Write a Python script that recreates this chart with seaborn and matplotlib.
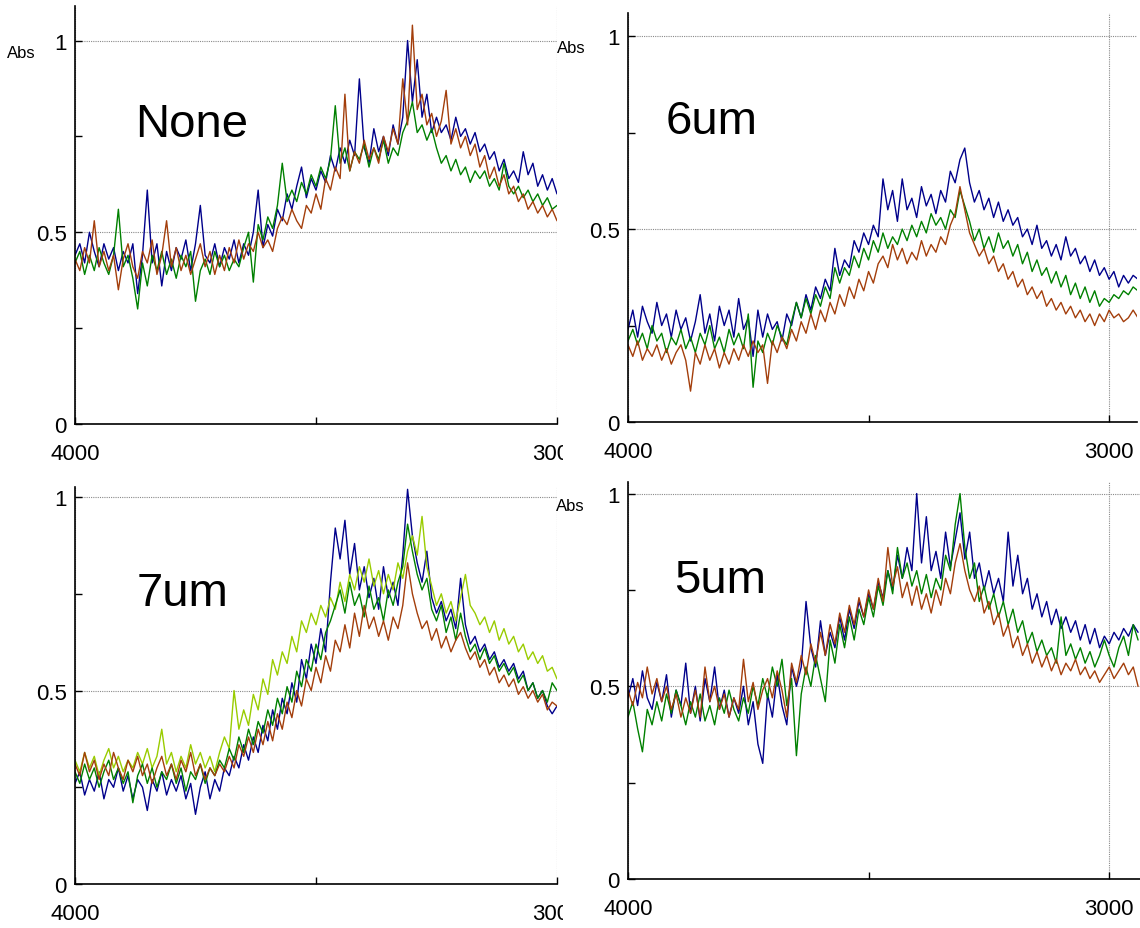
import numpy as np
import pandas as pd
import matplotlib
matplotlib.use("Agg")
import matplotlib.pyplot as plt
from matplotlib.ticker import FixedLocator
from matplotlib.transforms import Bbox, TransformedBbox
import seaborn as sns

# wavenumber grids in cm-1, 10 cm-1 steps
wn_left = np.arange(4000, 2999, -10)   # 4000 .. 3000
wn_right = np.arange(4000, 2939, -10)  # 4000 .. 2940

none_blue = [
    0.44, 0.47, 0.42, 0.50, 0.45, 0.41, 0.47, 0.43, 0.46, 0.40,
    0.45, 0.42, 0.47, 0.34, 0.44, 0.61, 0.42, 0.47, 0.36, 0.45,
    0.40, 0.46, 0.43, 0.48, 0.40, 0.47, 0.57, 0.44, 0.42, 0.47,
    0.41, 0.46, 0.43, 0.48, 0.42, 0.47, 0.44, 0.50, 0.61, 0.46,
    0.52, 0.49, 0.56, 0.53, 0.60, 0.56, 0.62, 0.67, 0.59, 0.64,
    0.61, 0.66, 0.63, 0.70, 0.66, 0.72, 0.68, 0.74, 0.70, 0.90,
    0.72, 0.68, 0.77, 0.71, 0.75, 0.70, 0.78, 0.73, 0.80, 1.00,
    0.84, 0.95, 0.80, 0.86, 0.76, 0.80, 0.76, 0.78, 0.74, 0.80,
    0.75, 0.77, 0.73, 0.76, 0.71, 0.73, 0.69, 0.71, 0.66, 0.69,
    0.64, 0.66, 0.63, 0.71, 0.65, 0.68, 0.62, 0.65, 0.61, 0.64,
    0.60]
none_green = [
    0.42, 0.45, 0.39, 0.44, 0.40, 0.46, 0.42, 0.39, 0.44, 0.56,
    0.41, 0.44, 0.38, 0.30, 0.42, 0.36, 0.44, 0.40, 0.45, 0.39,
    0.43, 0.38, 0.44, 0.41, 0.45, 0.32, 0.40, 0.43, 0.39, 0.45,
    0.41, 0.44, 0.40, 0.43, 0.41, 0.46, 0.50, 0.37, 0.52, 0.48,
    0.54, 0.51, 0.57, 0.68, 0.58, 0.61, 0.58, 0.63, 0.60, 0.65,
    0.62, 0.67, 0.64, 0.69, 0.83, 0.68, 0.72, 0.66, 0.71, 0.69,
    0.73, 0.67, 0.72, 0.69, 0.74, 0.68, 0.72, 0.70, 0.76, 0.79,
    0.84, 0.76, 0.78, 0.74, 0.77, 0.72, 0.68, 0.70, 0.66, 0.69,
    0.65, 0.67, 0.63, 0.66, 0.64, 0.66, 0.62, 0.64, 0.61, 0.68,
    0.62, 0.60, 0.62, 0.59, 0.61, 0.58, 0.60, 0.57, 0.59, 0.56,
    0.57]
none_brown = [
    0.43, 0.40, 0.46, 0.42, 0.53, 0.41, 0.45, 0.40, 0.44, 0.35,
    0.43, 0.47, 0.41, 0.38, 0.45, 0.42, 0.48, 0.39, 0.44, 0.53,
    0.41, 0.46, 0.40, 0.44, 0.39, 0.43, 0.47, 0.41, 0.45, 0.39,
    0.44, 0.40, 0.46, 0.42, 0.48, 0.43, 0.47, 0.45, 0.50, 0.46,
    0.48, 0.45, 0.51, 0.54, 0.52, 0.56, 0.53, 0.51, 0.57, 0.55,
    0.60, 0.56, 0.64, 0.61, 0.67, 0.64, 0.86, 0.66, 0.71, 0.68,
    0.74, 0.69, 0.72, 0.68, 0.75, 0.71, 0.77, 0.73, 0.90, 0.78,
    1.04, 0.82, 0.86, 0.78, 0.81, 0.75, 0.79, 0.87, 0.73, 0.77,
    0.72, 0.75, 0.70, 0.73, 0.67, 0.70, 0.64, 0.67, 0.62, 0.65,
    0.60, 0.62, 0.58, 0.60, 0.56, 0.58, 0.55, 0.57, 0.54, 0.56,
    0.53]

um6_blue = [
    0.24, 0.29, 0.22, 0.30, 0.26, 0.23, 0.31, 0.25, 0.28, 0.22,
    0.29, 0.24, 0.27, 0.21, 0.26, 0.33, 0.23, 0.28, 0.21, 0.30,
    0.25, 0.29, 0.22, 0.32, 0.24, 0.27, 0.17, 0.29, 0.22, 0.28,
    0.24, 0.26, 0.21, 0.28, 0.25, 0.31, 0.27, 0.33, 0.29, 0.35,
    0.32, 0.37, 0.34, 0.45, 0.38, 0.42, 0.40, 0.47, 0.44, 0.49,
    0.46, 0.51, 0.48, 0.63, 0.55, 0.60, 0.52, 0.63, 0.55, 0.58,
    0.53, 0.61, 0.56, 0.59, 0.54, 0.60, 0.57, 0.65, 0.62, 0.68,
    0.71, 0.62, 0.57, 0.60, 0.55, 0.58, 0.53, 0.57, 0.52, 0.55,
    0.51, 0.53, 0.48, 0.50, 0.46, 0.51, 0.45, 0.47, 0.43, 0.46,
    0.42, 0.48, 0.43, 0.45, 0.41, 0.43, 0.39, 0.42, 0.38, 0.40,
    0.37, 0.39, 0.35, 0.38, 0.36, 0.38, 0.37]
um6_green = [
    0.21, 0.24, 0.20, 0.23, 0.19, 0.25, 0.21, 0.23, 0.18, 0.22,
    0.20, 0.24, 0.19, 0.22, 0.18, 0.23, 0.20, 0.25, 0.19, 0.22,
    0.18, 0.24, 0.20, 0.23, 0.19, 0.28, 0.09, 0.21, 0.18, 0.23,
    0.20, 0.25, 0.22, 0.20, 0.26, 0.31, 0.27, 0.32, 0.28, 0.33,
    0.30, 0.35, 0.32, 0.40, 0.36, 0.40, 0.38, 0.43, 0.40, 0.45,
    0.42, 0.47, 0.44, 0.49, 0.45, 0.48, 0.46, 0.50, 0.47, 0.51,
    0.48, 0.52, 0.49, 0.54, 0.51, 0.53, 0.50, 0.55, 0.53, 0.60,
    0.56, 0.52, 0.47, 0.50, 0.45, 0.48, 0.44, 0.49, 0.45, 0.47,
    0.43, 0.46, 0.41, 0.44, 0.39, 0.42, 0.38, 0.40, 0.36, 0.39,
    0.35, 0.38, 0.33, 0.36, 0.32, 0.35, 0.31, 0.34, 0.30, 0.32,
    0.31, 0.33, 0.32, 0.34, 0.33, 0.35, 0.34]
um6_brown = [
    0.20, 0.17, 0.21, 0.16, 0.19, 0.17, 0.20, 0.16, 0.19, 0.15,
    0.18, 0.20, 0.16, 0.08, 0.18, 0.15, 0.20, 0.16, 0.19, 0.14,
    0.18, 0.15, 0.19, 0.16, 0.20, 0.17, 0.21, 0.18, 0.20, 0.10,
    0.21, 0.18, 0.22, 0.19, 0.24, 0.21, 0.26, 0.23, 0.28, 0.24,
    0.29, 0.26, 0.31, 0.28, 0.33, 0.30, 0.35, 0.32, 0.37, 0.34,
    0.39, 0.36, 0.41, 0.43, 0.40, 0.46, 0.42, 0.45, 0.41, 0.44,
    0.42, 0.47, 0.43, 0.46, 0.44, 0.48, 0.46, 0.51, 0.54, 0.61,
    0.55, 0.49, 0.46, 0.43, 0.45, 0.41, 0.43, 0.39, 0.41, 0.37,
    0.39, 0.35, 0.37, 0.33, 0.35, 0.32, 0.34, 0.30, 0.32, 0.29,
    0.31, 0.28, 0.30, 0.27, 0.29, 0.26, 0.28, 0.25, 0.28, 0.26,
    0.29, 0.27, 0.28, 0.26, 0.27, 0.29, 0.27]

um7_blue = [
    0.26, 0.29, 0.23, 0.27, 0.24, 0.29, 0.22, 0.27, 0.25, 0.30,
    0.24, 0.28, 0.22, 0.27, 0.25, 0.19, 0.27, 0.24, 0.29, 0.23,
    0.27, 0.24, 0.28, 0.22, 0.26, 0.18, 0.25, 0.29, 0.22, 0.27,
    0.24, 0.30, 0.28, 0.33, 0.30, 0.36, 0.32, 0.38, 0.34, 0.41,
    0.37, 0.45, 0.40, 0.48, 0.44, 0.52, 0.47, 0.58, 0.53, 0.62,
    0.57, 0.66, 0.60, 0.78, 0.92, 0.84, 0.94, 0.80, 0.88, 0.76,
    0.82, 0.74, 0.79, 0.71, 0.82, 0.74, 0.78, 0.72, 0.85, 1.02,
    0.90, 0.83, 0.78, 0.86, 0.74, 0.70, 0.73, 0.68, 0.71, 0.66,
    0.79, 0.67, 0.62, 0.64, 0.60, 0.62, 0.58, 0.60, 0.56, 0.58,
    0.55, 0.57, 0.53, 0.55, 0.50, 0.52, 0.48, 0.50, 0.46, 0.44,
    0.46]
um7_green = [
    0.29, 0.26, 0.31, 0.27, 0.30, 0.25, 0.29, 0.32, 0.27, 0.30,
    0.26, 0.29, 0.21, 0.28, 0.31, 0.26, 0.30, 0.25, 0.29, 0.27,
    0.31, 0.26, 0.30, 0.24, 0.29, 0.27, 0.31, 0.26, 0.30, 0.28,
    0.32, 0.30, 0.35, 0.32, 0.38, 0.34, 0.40, 0.36, 0.42, 0.39,
    0.45, 0.41, 0.48, 0.44, 0.51, 0.47, 0.55, 0.51, 0.58, 0.55,
    0.62, 0.58, 0.65, 0.68, 0.72, 0.76, 0.70, 0.78, 0.72, 0.75,
    0.69, 0.77, 0.71, 0.74, 0.68, 0.76, 0.72, 0.78, 0.82, 0.93,
    0.86, 0.80, 0.76, 0.79, 0.71, 0.68, 0.72, 0.65, 0.69, 0.63,
    0.70, 0.64, 0.60, 0.62, 0.58, 0.61, 0.57, 0.59, 0.55, 0.57,
    0.54, 0.56, 0.52, 0.54, 0.50, 0.52, 0.48, 0.50, 0.47, 0.52,
    0.50]
um7_brown = [
    0.31, 0.28, 0.34, 0.29, 0.32, 0.27, 0.31, 0.28, 0.34, 0.30,
    0.27, 0.32, 0.29, 0.33, 0.28, 0.31, 0.26, 0.30, 0.33, 0.28,
    0.31, 0.27, 0.32, 0.29, 0.34, 0.28, 0.31, 0.27, 0.30, 0.28,
    0.31, 0.29, 0.33, 0.30, 0.36, 0.33, 0.38, 0.34, 0.40, 0.36,
    0.42, 0.37, 0.44, 0.40, 0.47, 0.43, 0.50, 0.46, 0.53, 0.50,
    0.56, 0.52, 0.59, 0.55, 0.63, 0.60, 0.67, 0.61, 0.70, 0.64,
    0.72, 0.66, 0.69, 0.64, 0.68, 0.63, 0.69, 0.66, 0.72, 0.83,
    0.75, 0.70, 0.66, 0.68, 0.63, 0.66, 0.61, 0.64, 0.60, 0.63,
    0.65, 0.61, 0.58, 0.60, 0.56, 0.58, 0.54, 0.56, 0.52, 0.54,
    0.51, 0.53, 0.49, 0.51, 0.48, 0.50, 0.47, 0.49, 0.45, 0.47,
    0.46]
um7_lime = [
    0.32, 0.29, 0.34, 0.30, 0.33, 0.28, 0.32, 0.35, 0.30, 0.33,
    0.29, 0.32, 0.30, 0.34, 0.31, 0.35, 0.30, 0.33, 0.40, 0.31,
    0.34, 0.29, 0.33, 0.30, 0.36, 0.31, 0.34, 0.30, 0.33, 0.29,
    0.34, 0.38, 0.35, 0.50, 0.40, 0.45, 0.41, 0.49, 0.45, 0.53,
    0.49, 0.58, 0.54, 0.60, 0.57, 0.64, 0.60, 0.68, 0.65, 0.70,
    0.67, 0.72, 0.69, 0.74, 0.71, 0.78, 0.73, 0.80, 0.76, 0.82,
    0.78, 0.84, 0.77, 0.81, 0.75, 0.80, 0.76, 0.83, 0.79, 0.86,
    0.90, 0.85, 0.95, 0.82, 0.77, 0.72, 0.75, 0.70, 0.73, 0.68,
    0.74, 0.80, 0.72, 0.70, 0.67, 0.69, 0.65, 0.68, 0.63, 0.66,
    0.62, 0.64, 0.60, 0.62, 0.58, 0.60, 0.57, 0.59, 0.55, 0.56,
    0.53]

um5_blue = [
    0.47, 0.52, 0.45, 0.54, 0.47, 0.44, 0.51, 0.46, 0.53, 0.42,
    0.49, 0.45, 0.56, 0.43, 0.50, 0.41, 0.52, 0.46, 0.55, 0.44,
    0.49, 0.42, 0.47, 0.43, 0.50, 0.40, 0.46, 0.35, 0.30, 0.48,
    0.42, 0.53, 0.45, 0.40, 0.55, 0.50, 0.55, 0.72, 0.60, 0.55,
    0.67, 0.58, 0.64, 0.60, 0.68, 0.62, 0.70, 0.65, 0.72, 0.68,
    0.74, 0.70, 0.77, 0.73, 0.80, 0.75, 0.84, 0.78, 0.86, 0.80,
    1.00, 0.82, 0.94, 0.80, 0.85, 0.78, 0.90, 0.81, 0.88, 0.95,
    0.83, 0.90, 0.78, 0.82, 0.75, 0.80, 0.74, 0.78, 0.72, 0.90,
    0.76, 0.84, 0.74, 0.78, 0.70, 0.74, 0.68, 0.72, 0.66, 0.70,
    0.65, 0.68, 0.64, 0.67, 0.62, 0.66, 0.61, 0.65, 0.60, 0.63,
    0.61, 0.64, 0.62, 0.65, 0.63, 0.66, 0.64]
um5_green = [
    0.42, 0.46, 0.39, 0.33, 0.44, 0.40, 0.46, 0.41, 0.48, 0.43,
    0.49, 0.45, 0.40, 0.46, 0.42, 0.48, 0.41, 0.45, 0.40, 0.47,
    0.43, 0.49, 0.44, 0.41, 0.47, 0.43, 0.50, 0.45, 0.52, 0.47,
    0.55, 0.50, 0.57, 0.45, 0.52, 0.32, 0.48, 0.55, 0.50, 0.58,
    0.52, 0.46, 0.62, 0.56, 0.66, 0.60, 0.68, 0.62, 0.70, 0.66,
    0.73, 0.68, 0.76, 0.71, 0.80, 0.74, 0.86, 0.78, 0.82, 0.76,
    0.80, 0.74, 0.79, 0.73, 0.78, 0.75, 0.84, 0.80, 0.92, 1.00,
    0.86, 0.78, 0.82, 0.72, 0.76, 0.70, 0.74, 0.68, 0.72, 0.66,
    0.70, 0.64, 0.67, 0.61, 0.64, 0.59, 0.62, 0.58, 0.60, 0.56,
    0.68, 0.58, 0.61, 0.57, 0.60, 0.56, 0.59, 0.55, 0.58, 0.62,
    0.58, 0.55, 0.60, 0.63, 0.58, 0.66, 0.62]
um5_brown = [
    0.49, 0.45, 0.51, 0.47, 0.55, 0.48, 0.52, 0.46, 0.50, 0.44,
    0.48, 0.42, 0.47, 0.43, 0.49, 0.42, 0.55, 0.46, 0.50, 0.44,
    0.48, 0.42, 0.47, 0.44, 0.57, 0.46, 0.51, 0.44, 0.49, 0.52,
    0.47, 0.54, 0.49, 0.42, 0.56, 0.51, 0.58, 0.53, 0.61, 0.56,
    0.64, 0.58, 0.66, 0.61, 0.69, 0.64, 0.71, 0.66, 0.73, 0.68,
    0.75, 0.70, 0.78, 0.72, 0.86, 0.76, 0.81, 0.73, 0.77, 0.71,
    0.76, 0.70, 0.74, 0.69, 0.75, 0.71, 0.78, 0.74, 0.82, 0.87,
    0.80, 0.75, 0.72, 0.76, 0.69, 0.72, 0.66, 0.69, 0.63, 0.66,
    0.60, 0.63, 0.58, 0.61, 0.56, 0.59, 0.55, 0.58, 0.54, 0.57,
    0.53, 0.56, 0.54, 0.57, 0.53, 0.55, 0.52, 0.54, 0.51, 0.53,
    0.55, 0.52, 0.54, 0.56, 0.53, 0.55, 0.50]

palette = {"blue": "#00008b", "lime": "#99cc00", "green": "#008000", "brown": "#a33e0b"}


def spectra_frame(wn, series):
    rows = []
    for name, vals in series.items():
        rows.append(pd.DataFrame({"wavenumber": wn, "Abs": vals, "run": name}))
    return pd.concat(rows, ignore_index=True)


panels = [
    dict(label="None", wn=wn_left,
         series={"blue": none_blue, "green": none_green, "brown": none_brown},
         rect=[75 / 1140, 1 - 425 / 929, 482 / 1140, 418 / 929],
         xlim=(4000, 3000), ytop=1.09, abs_lbl=True, txt=(0.124, 0.75), clip=True),
    dict(label="6um", wn=wn_right,
         series={"blue": um6_blue, "green": um6_green, "brown": um6_brown},
         rect=[628 / 1140, 1 - 423 / 929, 509 / 1140, 409 / 929],
         xlim=(4000, 2942), ytop=1.06, abs_lbl=True, txt=(0.073, 0.75), clip=False),
    dict(label="7um", wn=wn_left,
         series={"blue": um7_blue, "lime": um7_lime, "green": um7_green, "brown": um7_brown},
         rect=[75 / 1140, 1 - 885 / 929, 482 / 1140, 397 / 929],
         xlim=(4000, 3000), ytop=1.026, abs_lbl=False, txt=(0.127, 0.72), clip=True),
    dict(label="5um", wn=wn_right,
         series={"blue": um5_blue, "green": um5_green, "brown": um5_brown},
         rect=[628 / 1140, 1 - 880 / 929, 512 / 1140, 397 / 929],
         xlim=(4000, 2936), ytop=1.03, abs_lbl=True, txt=(0.09, 0.745), clip=False),
]

sns.set_style("ticks")
plt.rcParams["font.family"] = ["Liberation Sans", "DejaVu Sans"]
plt.rcParams["text.color"] = "black"

fig = plt.figure(figsize=(11.4, 9.29), dpi=100)
fig.patch.set_facecolor("white")

for p in panels:
    ax = fig.add_axes(p["rect"])
    df = spectra_frame(p["wn"], p["series"])
    sns.lineplot(data=df, x="wavenumber", y="Abs", hue="run", palette=palette,
                 estimator=None, sort=False, linewidth=1.0, legend=False, ax=ax)
    ax.set_xlim(*p["xlim"])
    ax.set_ylim(0, p["ytop"])
    ax.set_xlabel("")
    ax.set_ylabel("")

    ax.set_yticks([0, 0.5, 1])
    ax.set_yticklabels(["0", "0.5", "1"])
    ax.yaxis.set_minor_locator(FixedLocator([0.25, 0.75]))
    ax.set_xticks([4000, 3000])
    ax.set_xticklabels(["4000", "3000"])
    ax.xaxis.set_minor_locator(FixedLocator([3500]))
    ax.tick_params(which="both", direction="in", length=5, width=1, color="black",
                   labelsize=16, labelcolor="black")
    ax.tick_params(axis="x", pad=14)
    ax.tick_params(axis="y", pad=6)

    ax.grid(True, which="major", color="#8a8a8a", linestyle=(0, (1, 1)), linewidth=0.8)
    ax.set_axisbelow(True)
    for side in ["top", "right"]:
        ax.spines[side].set_visible(False)
    for side in ["left", "bottom"]:
        ax.spines[side].set_color("black")
        ax.spines[side].set_linewidth(1.2)

    # the left column's "3000" is cut by the right column in the original
    if p["clip"]:
        cb = TransformedBbox(Bbox([[0, 0], [563 / 1140, 1]]), fig.transFigure)
        for lbl in ax.get_xticklabels():
            lbl.set_clip_box(cb)
            lbl.set_clip_on(True)

    if p["abs_lbl"]:
        ax.text(-0.112, 0.97, "Abs", transform=ax.get_yaxis_transform(),
                ha="center", va="center", fontsize=12, color="black")
    ax.text(p["txt"][0], p["txt"][1], p["label"], transform=ax.get_yaxis_transform(),
            ha="left", va="baseline", fontsize=34, color="black")

fig.savefig("out.png", dpi=100, facecolor="white")
